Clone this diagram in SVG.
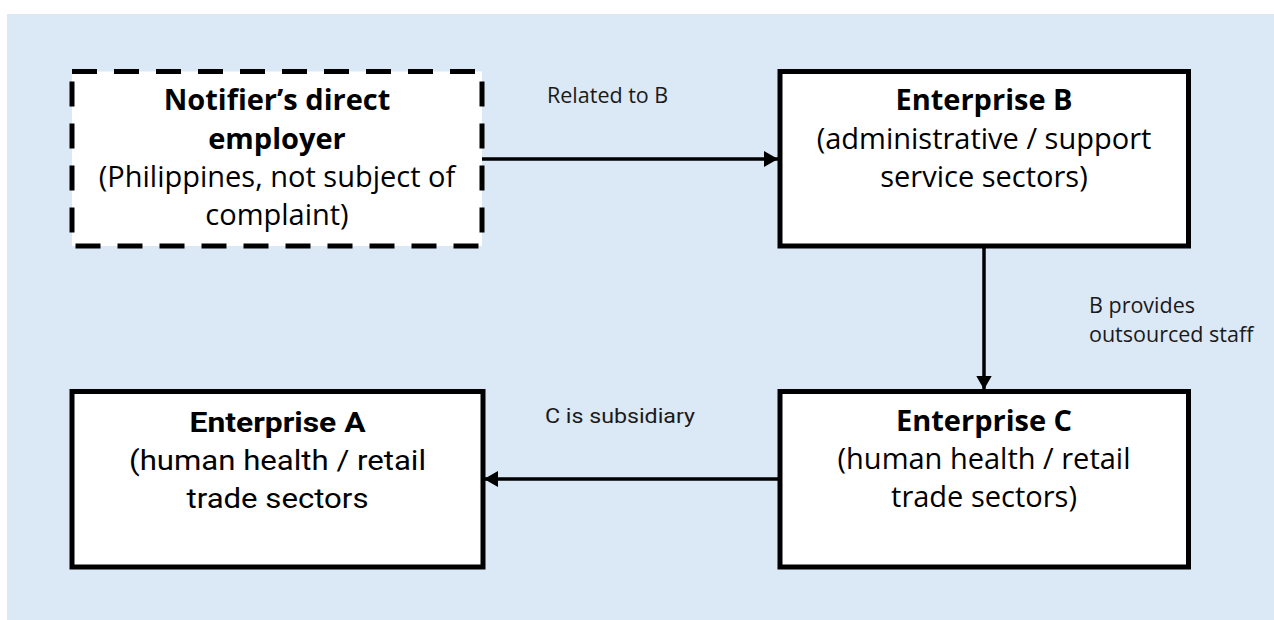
<svg xmlns="http://www.w3.org/2000/svg" width="1274" height="620" viewBox="0 0 1274 620">
  <defs>
    <marker id="arrow" markerUnits="userSpaceOnUse" markerWidth="15" markerHeight="16" refX="14" refY="8" orient="auto">
      <path d="M0,0 L14,8 L0,16 z" fill="#000"/>
    </marker>
    <style>
      .box { fill: #fff; stroke: #000; stroke-width: 5; stroke-linejoin: miter; }
      .dashed { stroke-dasharray: 25 17; }
      .title { font-family: "Open Sans", "Liberation Sans", sans-serif; font-size: 29px; font-weight: bold; fill: #000; text-anchor: middle; }
      .body { font-family: "Open Sans", "Liberation Sans", sans-serif; font-size: 29px; fill: #000; text-anchor: middle; }
      .narrow { font-family: Roboto, "Liberation Sans", sans-serif; font-size: 27px; fill: #000; text-anchor: middle; }
      .narrow-b { font-weight: bold; }
      .edge { stroke: #000; stroke-width: 3.5; fill: none; }
      .label { font-family: "Open Sans", "Liberation Sans", sans-serif; font-size: 21.5px; fill: #1a1a1a; }
      .label-n { font-family: Roboto, "Liberation Sans", sans-serif; font-size: 20px; fill: #1a1a1a; }
    </style>
  </defs>

  <!-- backdrop -->
  <rect x="7" y="14" width="1267" height="606" fill="#DBE8F5"/>

  <!-- connectors -->
  <g id="connectors">
    <line class="edge" x1="482" y1="159" x2="778" y2="159" marker-end="url(#arrow)"/>
    <line class="edge" x1="984" y1="246" x2="984" y2="389.5" marker-end="url(#arrow)"/>
    <line class="edge" x1="780" y1="479" x2="484" y2="479" marker-end="url(#arrow)"/>
    <text class="label" x="547" y="103">Related to B</text>
    <text class="label" x="1089" y="313">B provides</text>
    <text class="label" x="1089" y="341.5">outsourced staff</text>
    <text class="label-n" x="545" y="423" textLength="150" lengthAdjust="spacingAndGlyphs">C is subsidiary</text>
  </g>

  <!-- notifier's employer (dashed: not a party to the complaint) -->
  <g id="node-notifier">
    <rect class="box dashed" x="72" y="71.5" width="410" height="174.5"/>
    <text class="title" x="277" y="110">Notifier’s direct</text>
    <text class="title" x="277" y="148.5">employer</text>
    <text class="body" x="277" y="187">(Philippines, not subject of</text>
    <text class="body" x="277" y="225">complaint)</text>
  </g>

  <g id="node-b">
    <rect class="box" x="780" y="71.5" width="408.5" height="174.5"/>
    <text class="title" x="984" y="110">Enterprise B</text>
    <text class="body" x="984" y="148.5">(administrative / support</text>
    <text class="body" x="984" y="186.5">service sectors)</text>
  </g>

  <g id="node-c">
    <rect class="box" x="780" y="391.5" width="408.5" height="175.5"/>
    <text class="title" x="984" y="430.5">Enterprise C</text>
    <text class="body" x="984" y="468.5">(human health / retail</text>
    <text class="body" x="984" y="506.5">trade sectors)</text>
  </g>

  <g id="node-a">
    <rect class="box" x="72" y="391.5" width="411" height="175.5"/>
    <text class="narrow narrow-b" x="277.5" y="431.5" textLength="176" lengthAdjust="spacingAndGlyphs">Enterprise A</text>
    <text class="narrow" x="277.5" y="470" textLength="297" lengthAdjust="spacingAndGlyphs">(human health / retail</text>
    <text class="narrow" x="277.5" y="508" textLength="182" lengthAdjust="spacingAndGlyphs">trade sectors</text>
  </g>
</svg>
